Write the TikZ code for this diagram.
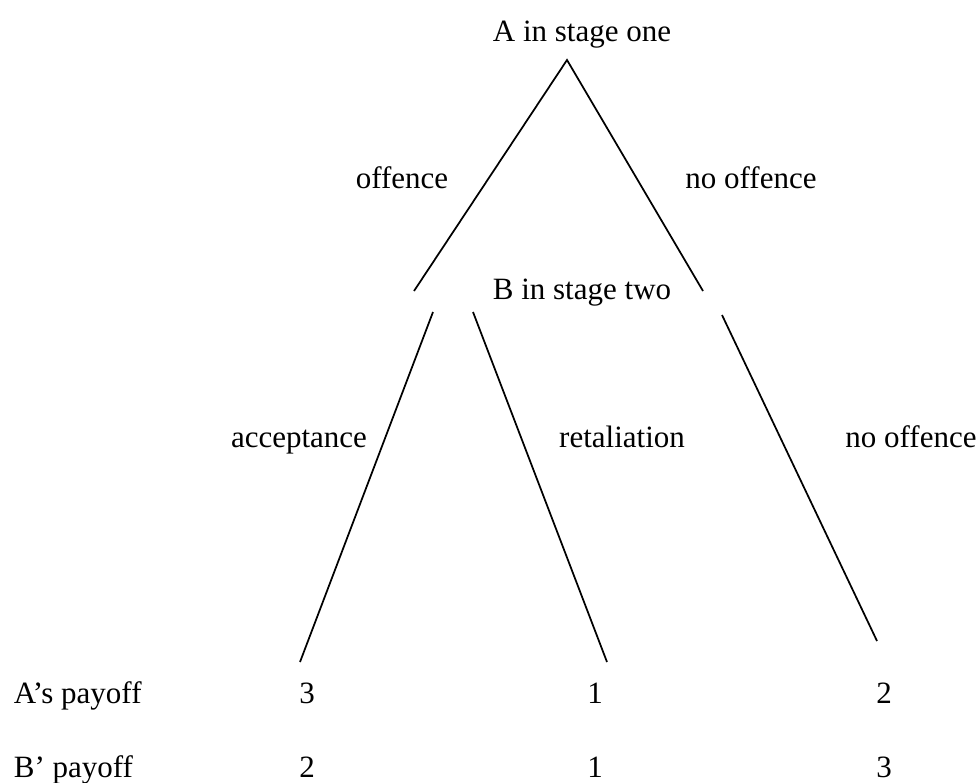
\documentclass[tikz,border=0pt]{standalone}
\usepackage{fontspec}
\setmainfont{Liberation Serif}
\begin{document}
\begin{tikzpicture}[x=0.75pt,y=-0.75pt,line width=1.3pt,
  lbl/.style={anchor=base,inner sep=0pt,font=\fontsize{23.25}{28}\selectfont}]
 \useasboundingbox (0,0) rectangle (980,782);
 \node[lbl] (stageA) at (582,41) {A in stage one};
 \node[lbl] (stageB) at (582,299) {B in stage two};
 \coordinate (top) at (567,60);
 \coordinate (offL) at (414,291); \coordinate (offR) at (703,291);
 \coordinate (accT) at (433,312); \coordinate (accB) at (300,662);
 \coordinate (retT) at (473,312); \coordinate (retB) at (607,662);
 \coordinate (noT) at (722,315); \coordinate (noB) at (877,641);
 \draw (offL)--(top)--(offR);
 \draw (accT)--(accB);
 \draw (retT)--(retB);
 \draw (noT)--(noB);
 \node[lbl] (offence) at (402,188) {offence};
 \node[lbl] (nooffA) at (751,188) {no offence};
 \node[lbl] (accept) at (299,447) {acceptance};
 \node[lbl] (retal) at (622,447) {retaliation};
 \node[lbl] (nooffB) at (911,447) {no offence};
 \node[lbl,anchor=base west] (payA) at (13,703) {A’s payoff};
 \node[lbl,anchor=base west] (payB) at (13,777) {B’ payoff};
 \node[lbl] (a1) at (307,703) {3}; \node[lbl] (a2) at (595,703) {1}; \node[lbl] (a3) at (884,703) {2};
 \node[lbl] (b1) at (307,777) {2}; \node[lbl] (b2) at (595,777) {1}; \node[lbl] (b3) at (884,777) {3};
\end{tikzpicture}
\end{document}
